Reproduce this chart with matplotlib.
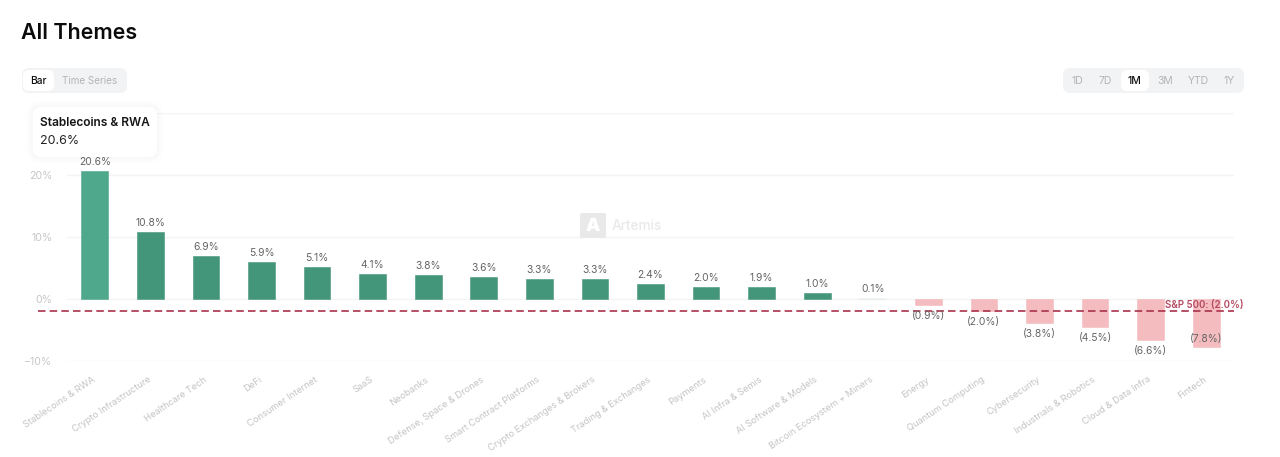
"""All Themes bar chart: one month return per theme, with the S&P 500 as reference line."""
import matplotlib

matplotlib.use("Agg")
import matplotlib.pyplot as plt
from matplotlib.patches import FancyBboxPatch
from matplotlib.transforms import Affine2D, blended_transform_factory

W, H = 1280, 457

themes = [
    "Stablecoins & RWA", "Crypto Infrastructure", "Healthcare Tech", "DeFi",
    "Consumer Internet", "SaaS", "Neobanks", "Defense, Space & Drones",
    "Smart Contract Platforms", "Crypto Exchanges & Brokers", "Trading & Exchanges",
    "Payments", "AI Infra & Semis", "AI Software & Models", "Bitcoin Ecosystem + Miners",
    "Energy", "Quantum Computing", "Cybersecurity", "Industrials & Robotics",
    "Cloud & Data Infra", "Fintech",
]
returns = [20.6, 10.8, 6.9, 5.9, 5.1, 4.1, 3.8, 3.6, 3.3, 3.3, 2.4,
           2.0, 1.9, 1.0, 0.1, -0.9, -2.0, -3.8, -4.5, -6.6, -7.8]
y_ticks = [-10, 0, 10, 20, 30]
y_tick_labels = ["\u221210%", "0%", "10%", "20%", ""]  # 30% is hidden behind the tooltip
sp500 = -2.0
periods = ["1D", "7D", "1M", "3M", "YTD", "1Y"]

GREEN = "#44967b"
GREEN_HOVER = "#4fa78c"
RED = "#f4bcbf"
LINE_RED = "#a9324d"

plt.rcParams["font.family"] = ["Inter", "DejaVu Sans"]


def pct(v):
    return f"({abs(v):.1f}%)" if v < 0 else f"{v:.1f}%"


def fig_box(fig, x0, y0, x1, y1, color, radius=6, zorder=5, alpha=1.0):
    # pixel box, y measured from the top of the picture
    p = FancyBboxPatch(
        (x0, H - y1), x1 - x0, y1 - y0,
        boxstyle=f"round,pad=0,rounding_size={radius}",
        fc=color, ec="none", alpha=alpha, zorder=zorder, clip_on=False,
    )
    p.set_transform(Affine2D())
    fig.add_artist(p)
    return p


def fig_text(fig, x, y, s, **kw):
    return fig.text(x / W, 1 - y / H, s, va="center", **kw)


def main():
    fig = plt.figure(figsize=(W / 100, H / 100), dpi=100, facecolor="white")
    ax = fig.add_axes([67 / W, 1 - 361 / H, (1234 - 67) / W, (361 - 113) / H])
    ax.set_xlim(-0.5, len(themes) - 0.5)
    ax.set_ylim(-10, 30)
    for s in ax.spines.values():
        s.set_visible(False)

    ax.set_axisbelow(True)
    ax.set_yticks(y_ticks)
    ax.set_yticklabels(y_tick_labels, fontsize=7.6, color="#c6c6c6")
    ax.tick_params(axis="y", length=0, pad=10.4)
    ax.grid(axis="y", color="#f3f4f4", lw=1)

    colors = [GREEN if v >= 0 else RED for v in returns]
    colors[0] = GREEN_HOVER
    bars = ax.bar(range(len(themes)), returns, width=0.48, color=colors,
                  edgecolor=colors, linewidth=0.4, zorder=2)
    for b in bars:
        b.set_joinstyle("round")
    bars[14].set_alpha(0.06)

    # labels sit above/below the bar, the lowest one gets pulled inside it
    for i, v in enumerate(returns):
        if i == len(returns) - 1:
            off = 8
        elif v < 0:
            off = -11
        else:
            off = 9
        ax.annotate(pct(v), (i, v), xytext=(0, off * 0.72), textcoords="offset points",
                    ha="center", va="center", fontsize=7.4, color="#646464", zorder=4)

    ax.set_xticks(range(len(themes)))
    ax.set_xticklabels([])
    ax.tick_params(axis="x", length=0)
    trans = blended_transform_factory(ax.transData, ax.transAxes)
    for i, name in enumerate(themes):
        ax.annotate(name, (i, 0), xycoords=trans, xytext=(-2, -10), textcoords="offset points",
                    rotation=34, rotation_mode="anchor", ha="right", va="top",
                    fontsize=6.7, color="#c4c4c4", annotation_clip=False)

    # S&P 500 reference line starts left of the plot area
    line_trans = blended_transform_factory(ax.transAxes, ax.transData)
    ax.plot([(38 - 67) / (1234 - 67), 1], [sp500, sp500], transform=line_trans,
            color=LINE_RED, lw=1.2, dashes=(4.5, 2.5), clip_on=False, zorder=3)
    ax.annotate(f"S&P 500: {pct(sp500)}", (1, sp500), xycoords=line_trans, xytext=(6.5, 4.8),
                textcoords="offset points", ha="right", va="center", fontsize=7.0,
                fontweight="semibold", color="#b54a62", zorder=4, annotation_clip=False)

    # watermark
    fig_box(fig, 580, 213, 606, 238, "#e9e9e9", radius=2, zorder=1)
    fig_text(fig, 593, 226, "A", ha="center", fontsize=13, fontweight="black", color="white", zorder=1.5)
    fig_text(fig, 612, 226, "Artemis", ha="left", fontsize=9.8, fontweight="medium", color="#e9e9e9", zorder=1.5)

    # header
    fig_text(fig, 21, 33, "All Themes", ha="left", fontsize=15.4, fontweight="semibold", color="#0b0b0b")

    # Bar / Time Series switch
    fig_box(fig, 22, 68, 127, 93, "#f2f3f4", radius=7)
    fig_box(fig, 23, 70, 54, 91, "white", radius=6, zorder=6)
    fig_text(fig, 38, 80.5, "Bar", ha="center", fontsize=7.4, fontweight="medium", color="#111111", zorder=7)
    fig_text(fig, 90, 80.5, "Time Series", ha="center", fontsize=7.2, color="#b4b4b4", zorder=7)

    # period switch
    fig_box(fig, 1063, 68, 1244, 93, "#f2f3f4", radius=7)
    fig_box(fig, 1121, 70, 1149, 91, "white", radius=6, zorder=6)
    for label, x in zip(periods, [1077, 1105, 1134, 1165, 1198, 1229]):
        active = label == "1M"
        fig_text(fig, x, 80.5, label, ha="center", fontsize=7.5,
                 fontweight="medium" if active else "normal",
                 color="#111111" if active else "#b4b4b4", zorder=7)

    # hover tooltip with a soft shadow
    for grow, a in [(6, 0.006), (4, 0.008), (2, 0.012)]:
        fig_box(fig, 33 - grow, 107 - grow, 157 + grow, 157 + grow, "#000000",
                radius=8 + grow, zorder=8, alpha=a)
    fig_box(fig, 33, 107, 157, 157, "white", radius=8, zorder=9)
    fig_text(fig, 40, 123, themes[0], ha="left", fontsize=8.6, fontweight="semibold", color="#151515", zorder=10)
    fig_text(fig, 40, 141, pct(returns[0]), ha="left", fontsize=9, color="#222222", zorder=10)

    fig.savefig("out.png", dpi=100, facecolor="white")


if __name__ == "__main__":
    main()
